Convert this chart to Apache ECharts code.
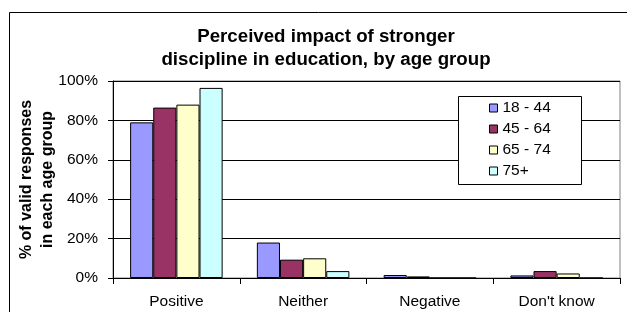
<!DOCTYPE html>
<html><head><meta charset="utf-8">
<script src="https://cdn.jsdelivr.net/npm/echarts@6/dist/echarts.min.js"></script>
<style>html,body{margin:0;padding:0;background:#fff}#c{width:627px;height:312px}</style>
</head><body><div id="c"></div>
<script>
const categories = ['Positive', 'Neither', 'Negative', "Don't know"];
const seriesNames = ['18 - 44', '45 - 64', '65 - 74', '75+'];
const s1844 = [79, 18, 1.5, 1.3];
const s4564 = [86.5, 9.3, 0.8, 3.5];
const s6574 = [88, 10, 0, 2.3];
const s75 = [96.5, 3.5, 0, 0];
const yTicks = [0, 20, 40, 60, 80, 100];
const colors = ['#9999FF', '#993366', '#FFFFCC', '#CCFFFF'];
const values = [s1844, s4564, s6574, s75];

const chart = echarts.init(document.getElementById('c'));
const font = 'Liberation Sans, Arial, sans-serif';
chart.setOption({
  animation: false,
  title: {
    text: 'Perceived impact of stronger\ndiscipline in education, by age group',
    left: 321, textAlign: 'center', top: 20,
    textStyle: {fontFamily: font, fontSize: 18.7, fontWeight: 'bold', color: '#000', lineHeight: 23}
  },
  graphic: [{
    type: 'rect', shape: {x: 9.5, y: 12.5, width: 640, height: 320},
    style: {fill: 'none', stroke: '#000', lineWidth: 1}, silent: true, z: 0
  }, {
    type: 'rect', shape: {x: 458.5, y: 96.5, width: 123, height: 88},
    style: {fill: '#fff', stroke: '#000', lineWidth: 1}, silent: true, z: 3
  }],
  legend: {
    data: seriesNames, orient: 'vertical', left: 458, top: 96, z: 5,
    padding: [4, 0, 0, 31], itemGap: 5,
    itemWidth: 8, itemHeight: 8, itemStyle: {borderColor: '#000', borderWidth: 1},
    textStyle: {fontFamily: font, fontSize: 15.5, color: '#000', lineHeight: 16},
    icon: 'rect'
  },
  grid: {left: 113, right: 7, top: 81, bottom: 34, show: true, borderColor: '#808080', borderWidth: 1},
  xAxis: {
    type: 'category', data: categories,
    axisLine: {lineStyle: {color: '#000'}},
    axisTick: {show: true, length: 6, lineStyle: {color: '#000'}},
    axisLabel: {fontFamily: font, fontSize: 15.5, color: '#000', margin: 16}
  },
  yAxis: {
    type: 'value', min: 0, max: 100, interval: 20,
    name: '% of valid responses\nin each age group', nameLocation: 'middle', nameGap: 55,
    nameMoveOverlap: false,
    nameTextStyle: {fontFamily: font, fontSize: 16, fontWeight: 'bold', color: '#000', lineHeight: 21},
    axisLine: {show: true, lineStyle: {color: '#000'}},
    axisTick: {show: true, length: 5, inside: false, lineStyle: {color: '#000'}},
    axisLabel: {fontFamily: font, fontSize: 15.5, color: '#000', margin: 15, formatter: v => yTicks.includes(v) ? v + '%' : ''},
    splitLine: {lineStyle: {color: '#000'}}
  },
  series: seriesNames.map((n, i) => ({
    name: n, type: 'bar', data: values[i], barGap: '0%', barCategoryGap: '27%',
    itemStyle: {color: colors[i], borderColor: '#000', borderWidth: 1}
  }))
});
</script></body></html>
